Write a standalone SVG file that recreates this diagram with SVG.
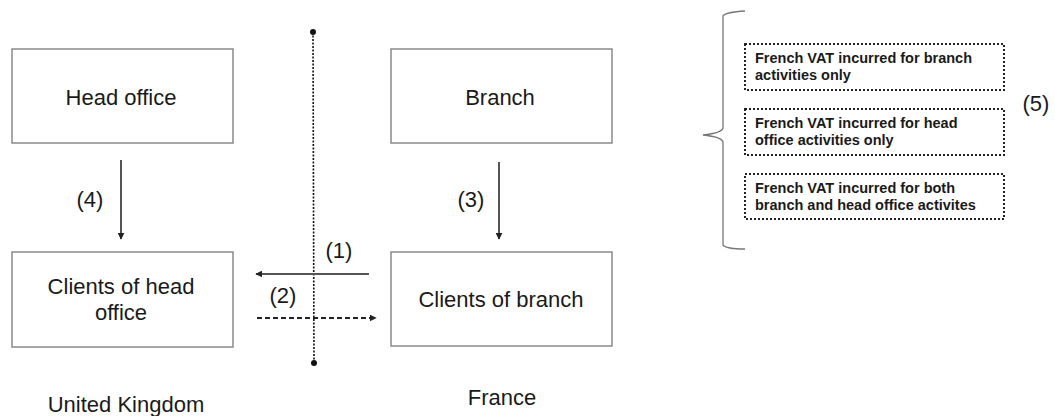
<svg xmlns="http://www.w3.org/2000/svg" width="1055" height="416" viewBox="0 0 1055 416">
<style>
.box{fill:#fff;stroke:#8a8a8a;stroke-width:1.5}
.dbox{fill:#fff;stroke:#222;stroke-width:2;stroke-dasharray:2 2}
.t{font-family:"Liberation Sans",Arial,sans-serif;font-size:22px;fill:#1a1a1a;text-anchor:middle}
.s{font-family:"Liberation Sans",Arial,sans-serif;font-size:14.5px;font-weight:bold;fill:#1a1a1a}
.ln{stroke:#555;stroke-width:2;fill:none}
</style>
<defs>
<marker id="ah" viewBox="0 0 10 10" refX="9" refY="5" markerWidth="7" markerHeight="7" orient="auto" markerUnits="userSpaceOnUse">
<path d="M0,0 L10,5 L0,10 z" fill="#222"/>
</marker>
</defs>
<rect width="1055" height="416" fill="#fff"/>
<g id="head-office"><rect class="box" x="12" y="49" width="221" height="94"/><text class="t" x="121" y="105">Head office</text></g>
<g id="branch"><rect class="box" x="391" y="49" width="221" height="94"/><text class="t" x="500" y="105">Branch</text></g>
<g id="clients-head-office"><rect class="box" x="12" y="252" width="221" height="95"/><text class="t" x="121" y="294">Clients of head</text><text class="t" x="121" y="320">office</text></g>
<g id="clients-branch"><rect class="box" x="391" y="252" width="221" height="94"/><text class="t" x="501" y="307">Clients of branch</text></g>
<g id="border">
<line x1="313" y1="32" x2="314" y2="363" stroke="#111" stroke-width="1.6" stroke-dasharray="2 1.5"/>
<circle cx="313" cy="32" r="3" fill="#111"/>
<circle cx="314" cy="363" r="3" fill="#111"/>
</g>
<g id="connectors">
<line class="ln" x1="121" y1="160" x2="121" y2="239" marker-end="url(#ah)"/>
<line class="ln" x1="499" y1="162" x2="499" y2="239" marker-end="url(#ah)"/>
<line class="ln" x1="369" y1="274" x2="256" y2="274" marker-end="url(#ah)"/>
<line x1="257" y1="318" x2="376" y2="318" stroke="#222" stroke-width="2" stroke-dasharray="5 3" marker-end="url(#ah)"/>
<text class="t" x="90" y="207">(4)</text>
<text class="t" x="471" y="207">(3)</text>
<text class="t" x="339" y="258">(1)</text>
<text class="t" x="283" y="303">(2)</text>
</g>
<g id="countries">
<text class="t" x="126" y="412">United Kingdom</text>
<text class="t" x="502" y="405">France</text>
</g>
<g id="brace">
<path d="M745,11 Q726,12 723,16 L723,128 Q722,133 703,135 Q722,137 723,142 L723,245 Q726,249 745,249" fill="none" stroke="#777" stroke-width="1.3"/>
</g>
<g id="vat-branch"><rect class="dbox" x="745" y="44" width="259" height="46"/><text class="s" x="755" y="63">French VAT incurred for branch</text><text class="s" x="755" y="80">activities only</text></g>
<g id="vat-head"><rect class="dbox" x="745" y="109" width="259" height="46"/><text class="s" x="755" y="128">French VAT incurred for head</text><text class="s" x="755" y="145">office activities only</text></g>
<g id="vat-both"><rect class="dbox" x="745" y="174" width="259" height="45"/><text class="s" x="755" y="193">French VAT incurred for both</text><text class="s" x="755" y="210">branch and head office activites</text></g>
<text class="t" x="1036" y="111">(5)</text>
</svg>
